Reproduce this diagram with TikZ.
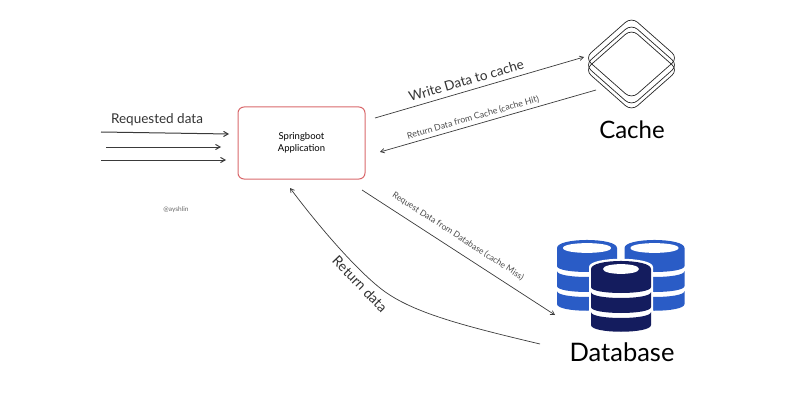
\documentclass[tikz,border=0pt]{standalone}
\usepackage{fontspec}
\setmainfont{Lato}
\usetikzlibrary{positioning,arrows}

\definecolor{appred}{HTML}{D9686B}
\definecolor{dbblue}{HTML}{2A5CC6}
\definecolor{dbnavy}{HTML}{141C5E}
\definecolor{inkgrey}{HTML}{3A3A3A}

\tikzset{
  flow/.style={->,>=angle 60,draw=inkgrey,line width=0.7pt},
  inflow/.style={flow,line width=1pt},
  lbl/.style={inner sep=0pt,text=black!80},
  cachelayer/.style={draw=black!85,line width=0.7pt,rounded corners=8pt},
  pics/dbstack/.style 2 args={code={
    \fill[white] (-32,6) .. controls (-32,-5) and (32,-5) .. (32,6) -- (32,66)
      .. controls (32,76) and (-32,76) .. (-32,66) -- cycle;
    \fill[#1] (-30,8) .. controls (-30,-2.7) and (30,-2.7) .. (30,8) -- (30,26)
      .. controls (30,34) and (-30,34) .. (-30,26) -- cycle;
    \fill[#1] (-30,31) .. controls (-30,39) and (30,39) .. (30,31) -- (30,46)
      .. controls (30,54) and (-30,54) .. (-30,46) -- cycle;
    \fill[#1] (-30,51) .. controls (-30,59) and (30,59) .. (30,51) -- (30,64)
      .. controls (30,73) and (-30,73) .. (-30,64) -- cycle;
    \fill[white] (-#2,8) .. controls (-#2,1.5) and (#2,1.5) .. (#2,8)
      .. controls (#2,14.5) and (-#2,14.5) .. (-#2,8) -- cycle;
  }}
}

\begin{document}
\begin{tikzpicture}[x=1pt,y=-1pt]
  \useasboundingbox (0,0) rectangle (800,401);

  % application box
  \node (app) [draw=appred,line width=1pt,rounded corners=6pt,minimum width=127pt,minimum height=72pt,
    align=center,font=\fontsize{9.5}{12}\selectfont] at (301.5,143) {Springboot\\Application};
  \node (req) [lbl,font=\fontsize{13.5}{15}\selectfont] at (157,120) {Requested data};
  \node (sig) [lbl,font=\fontsize{6.5}{7}\selectfont,text=black!60] at (176,210) {@ayshlin};

  % cache
  \foreach \y in {29,24,17}
    \draw[cachelayer] (631.5,\y) -- (678,\y+41) -- (631.5,\y+82) -- (585,\y+41) -- cycle;
  \node (cache) [inner sep=0pt,font=\fontsize{24}{28}\selectfont] at (632,130) {Cache};

  % database
  \pic at (587,240) {dbstack={dbblue}{24}};
  \pic at (654.5,240) {dbstack={dbblue}{24}};
  \pic at (621,261) {dbstack={dbnavy}{18}};
  \node (db) [inner sep=0pt,font=\fontsize{25.5}{28}\selectfont] at (622,352) {Database};

  % free ends of the connectors
  \coordinate (in1a) at (101,132);
  \coordinate (in1b) at (229,134);
  \coordinate (in2a) at (106,147);
  \coordinate (in2b) at (221,147);
  \coordinate (in3a) at (101,160);
  \coordinate (in3b) at (226,160);
  \coordinate (wra) at (375,118);
  \coordinate (wrb) at (584,57);
  \coordinate (hita) at (596,90);
  \coordinate (hitb) at (380,152);
  \coordinate (missa) at (362,190);
  \coordinate (missb) at (555,315);
  \coordinate (reta) at (540,344);
  \coordinate (retb) at (290,188);

  \draw[inflow] (in1a) to (in1b);
  \draw[inflow] (in2a) to (in2b);
  \draw[inflow] (in3a) to (in3b);
  \draw[flow] (wra) to node [pos=.45,lbl,sloped,above=5pt,font=\fontsize{13.5}{16}\selectfont] {Write Data to cache} (wrb);
  \draw[flow] (hita) to node [pos=.56,lbl,sloped,above=3pt,text=black!70,font=\fontsize{8.8}{11}\selectfont] {Return Data from Cache (cache Hit)} (hitb);
  \draw[flow] (missa) to node [pos=.46,lbl,sloped,above=9pt,text=black!70,font=\fontsize{8.5}{11}\selectfont] {Request Data from Database (cache Miss)} (missb);
  \draw[flow] (reta) .. controls (460,325) and (410,312) .. (380,288) .. controls (355,268) and (320,228) .. (retb);
  \node (retlbl) [lbl,rotate=-46,font=\fontsize{14}{16}\selectfont] at (360,284) {Return data};
\end{tikzpicture}
\end{document}
